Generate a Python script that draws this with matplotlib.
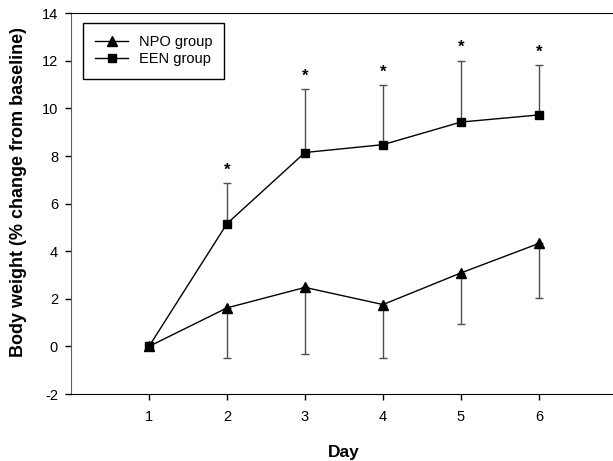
import numpy as np
import matplotlib.pyplot as plt

plt.rcParams['font.family'] = ['Liberation Sans', 'DejaVu Sans']
plt.rcParams['axes.unicode_minus'] = False

days = [1, 2, 3, 4, 5, 6]
npo_mean = [0.0, 1.62, 2.48, 1.76, 3.09, 4.33]
npo_sd = [0.0, 2.10, 2.78, 2.23, 2.16, 2.30]
een_mean = [0.0, 5.16, 8.15, 8.48, 9.43, 9.73]
een_sd = [0.0, 1.70, 2.65, 2.50, 2.58, 2.10]
star_days = [2, 3, 4, 5, 6]

fig = plt.figure(figsize=(6.13, 4.61), dpi=100)
ax = fig.add_axes([0.1158, 0.1453, 546 / 613, 0.8258])

zeros = np.zeros(len(days))
ax.errorbar(days, npo_mean, yerr=[npo_sd, zeros], fmt='none',
            ecolor='#505050', elinewidth=1, capsize=3, capthick=1)
ax.errorbar(days, een_mean, yerr=[zeros, een_sd], fmt='none',
            ecolor='#505050', elinewidth=1, capsize=3, capthick=1)
ax.plot(days, npo_mean, color='black', lw=1, marker='^', ms=7,
        label='NPO group')
ax.plot(days, een_mean, color='black', lw=1, marker='s', ms=6,
        label='EEN group')

# significance markers above EEN error bars
for d in star_days:
    i = days.index(d)
    ax.annotate('*', (d, een_mean[i] + een_sd[i]), xytext=(0, 4),
                textcoords='offset points', ha='center', va='bottom',
                fontsize=12, fontweight='bold')

ax.set_xlim(0, 7)
ax.set_ylim(-2, 14)
ax.set_xticks(days)
ax.set_yticks(np.arange(-2, 15, 2))
ax.tick_params(direction='out', length=4.3, width=1, labelsize=10.5,
               colors='black')
ax.tick_params(axis='x', pad=7)
ax.tick_params(axis='y', pad=5)
ax.spines['left'].set_color('#606060')
ax.set_xlabel('Day', fontsize=12.5, fontweight='bold', labelpad=15)
ax.set_ylabel('Body weight (% change from baseline)', fontsize=13,
              fontweight='bold')
ax.yaxis.set_label_coords(-0.08, 0.531)

leg = ax.legend(loc='upper left', bbox_to_anchor=(0.022, 0.975),
                borderaxespad=0, fontsize=10.5, fancybox=False,
                edgecolor='black', handlelength=2.27, handletextpad=0.69,
                borderpad=0.85, labelspacing=0.2, framealpha=1)
leg.get_frame().set_linewidth(1)

fig.savefig('out.png', dpi=100)
